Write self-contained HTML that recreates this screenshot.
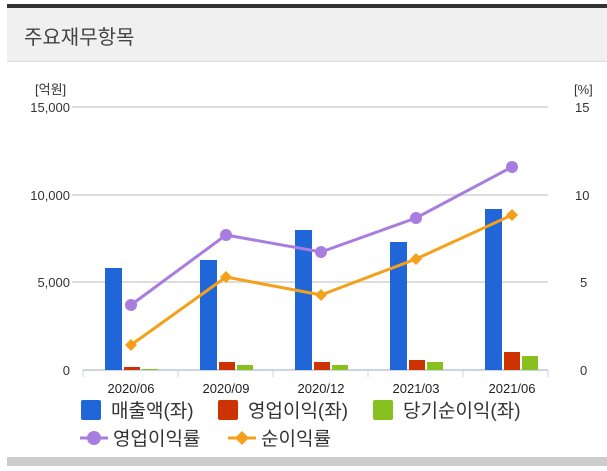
<!DOCTYPE html><html><head><meta charset="utf-8"><style>
body{margin:0;width:607px;height:466px;overflow:hidden;background:#fff;font-family:"Liberation Sans","Noto Sans CJK KR",sans-serif}
</style></head><body>
<svg width="607" height="466" xmlns="http://www.w3.org/2000/svg" font-family="Liberation Sans, Noto Sans CJK KR, sans-serif">
<rect x="0" y="0" width="607" height="466" fill="#fff"/>
<rect x="7" y="4" width="600" height="4" fill="#333"/>
<rect x="7" y="8" width="600" height="54" fill="#f0f0f0"/>
<rect x="7" y="61" width="600" height="1" fill="#ddd"/>
<text x="24" y="44" font-size="20" fill="#444">주요재무항목</text>
<text x="35" y="94" font-size="13" fill="#333">[억원]</text>
<text x="574" y="94" font-size="13" fill="#333">[%]</text>
<g stroke="#ddd" stroke-width="2"><line x1="72" y1="107" x2="483" y2="107"/><line x1="72" y1="107" x2="548" y2="107"/><line x1="72" y1="195" x2="548" y2="195"/><line x1="72" y1="282" x2="548" y2="282"/></g>
<line x1="83" y1="370" x2="548" y2="370" stroke="#ccd6e0" stroke-width="2"/>
<g stroke="#ccd6e0" stroke-width="1"><line x1="83" y1="370" x2="83" y2="377"/><line x1="178" y1="370" x2="178" y2="377"/><line x1="273" y1="370" x2="273" y2="377"/><line x1="368" y1="370" x2="368" y2="377"/><line x1="463" y1="370" x2="463" y2="377"/><line x1="548" y1="370" x2="548" y2="377"/></g>
<g font-size="13" fill="#333" text-anchor="end"><text x="70" y="112">15,000</text><text x="70" y="200">10,000</text><text x="70" y="287">5,000</text><text x="70" y="375">0</text></g>
<g font-size="13" fill="#333"><text x="575" y="112">15</text><text x="575" y="200">10</text><text x="580" y="287">5</text><text x="580" y="375">0</text></g>
<g fill="#2166d8"><rect x="105" y="268" width="17" height="102"/><rect x="200" y="260" width="17" height="110"/><rect x="295" y="230" width="17" height="140"/><rect x="390" y="242" width="17" height="128"/><rect x="485" y="209" width="17" height="161"/></g>
<g fill="#cc3300"><rect x="124" y="367" width="16" height="3"/><rect x="219" y="362" width="16" height="8"/><rect x="314" y="362" width="16" height="8"/><rect x="409" y="360" width="16" height="10"/><rect x="504" y="352" width="16" height="18"/></g>
<g fill="#88c020"><rect x="142" y="369" width="16" height="1"/><rect x="237" y="365" width="16" height="5"/><rect x="332" y="365" width="16" height="5"/><rect x="427" y="362" width="16" height="8"/><rect x="522" y="356" width="16" height="14"/></g>
<polyline points="131,305 226,235 321,252 416,218 512,167" fill="none" stroke="#a97de0" stroke-width="3"/>
<g fill="#a97de0"><circle cx="131" cy="305" r="6"/><circle cx="226" cy="235" r="6"/><circle cx="321" cy="252" r="6"/><circle cx="416" cy="218" r="6"/><circle cx="512" cy="167" r="6"/></g>
<polyline points="131,345 226,277 321,295 416,259 512,215" fill="none" stroke="#f5a01a" stroke-width="3"/>
<g fill="#f5a01a"><path d="M131 339l6 6-6 6-6-6z"/><path d="M226 271l6 6-6 6-6-6z"/><path d="M321 289l6 6-6 6-6-6z"/><path d="M416 253l6 6-6 6-6-6z"/><path d="M512 209l6 6-6 6-6-6z"/></g>
<g font-size="13" fill="#222" text-anchor="middle"><text x="131" y="393">2020/06</text><text x="226" y="393">2020/09</text><text x="321" y="393">2020/12</text><text x="416" y="393">2021/03</text><text x="512" y="393">2021/06</text></g>
<g font-size="19" fill="#333">
<rect x="81" y="400" width="20" height="20" rx="2" fill="#2166d8"/><text x="111" y="417">매출액(좌)</text>
<rect x="218" y="400" width="20" height="20" rx="2" fill="#cc3300"/><text x="248" y="417">영업이익(좌)</text>
<rect x="373" y="400" width="20" height="20" rx="2" fill="#88c020"/><text x="403" y="417">당기순이익(좌)</text>
<line x1="80" y1="438" x2="108" y2="438" stroke="#a97de0" stroke-width="3"/><circle cx="94" cy="438" r="7" fill="#a97de0"/><text x="113" y="445">영업이익률</text>
<line x1="228" y1="438" x2="256" y2="438" stroke="#f5a01a" stroke-width="3"/><path d="M242 431l7 7-7 7-7-7z" fill="#f5a01a"/><text x="261" y="445">순이익률</text>
</g>
<rect x="7" y="457" width="600" height="9" fill="#ccc"/>
</svg>
</body></html>
